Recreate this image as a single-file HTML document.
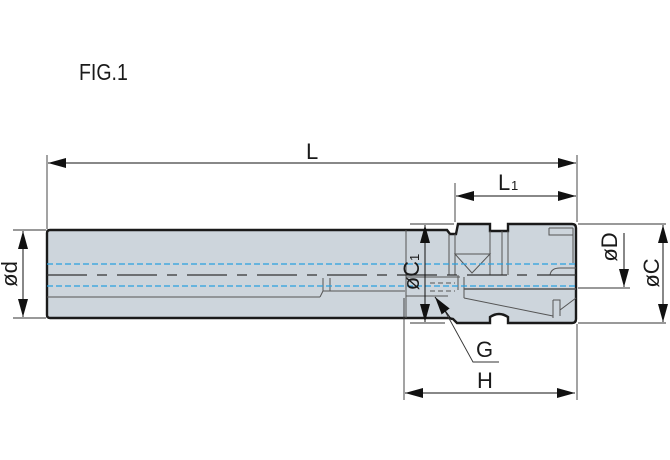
<!DOCTYPE html>
<html><head><meta charset="utf-8"><style>
html,body{margin:0;padding:0;background:#fff;width:670px;height:460px;overflow:hidden}
svg{display:block}
text{font-family:"Liberation Sans",sans-serif;fill:#1a1a1a}
</style></head><body>
<svg width="670" height="460" viewBox="0 0 670 460" xmlns="http://www.w3.org/2000/svg">
<defs>
<marker id="a" viewBox="0 0 18 10" refX="18" refY="5" markerWidth="18" markerHeight="10" orient="auto-start-reverse" markerUnits="userSpaceOnUse"><path d="M0,0 L18,5 L0,10 Z" fill="#111"/></marker>
</defs>
<text x="79" y="80" font-size="23" transform="translate(79 0) scale(0.85 1) translate(-79 0)">FIG.1</text>

<!-- body -->
<path d="M50,230 L447,230 L450,234 L456,234 L458,224 L490,224 L490,231 L508,231 L508,224 L572,224 Q576,224 576,228 L576,319 Q576,323 572,323 L508,323 L508,317 Q499,311 490,317 L490,323 L457,323 L453,319 L448,318 L50,318 Q47,318 47,315 L47,233 Q47,230 50,230 Z" fill="#cdd5dc" stroke="#1a1a1a" stroke-width="2.4"/>
<!-- internal lines -->
<g stroke="#555" stroke-width="1" fill="none">
<line x1="47" y1="297" x2="320" y2="297"/>
<path d="M320,297 L323,291 L323,278 M323,291 L405,291 M330,278 L330,291"/>
<line x1="406" y1="230" x2="406" y2="318"/>
<line x1="449" y1="234" x2="449" y2="275"/>
<line x1="455" y1="234" x2="455" y2="275"/>
<line x1="490" y1="231" x2="490" y2="275"/>
<line x1="502" y1="231" x2="502" y2="275"/>
<line x1="508" y1="231" x2="508" y2="275"/>
<path d="M455,254 L490,254 L472,273 Z"/>
<line x1="406" y1="277" x2="460" y2="277"/>
<path d="M458,275 L458,290 M464,277 L464,298"/>
<line x1="464" y1="289" x2="576" y2="289" stroke-width="1.4"/>
<path d="M464,298 L538,313 L553,316 M553,300 L553,318 M553,300 L560,300 L560,310 L576,298 M560,310 L560,316"/>
<path d="M549,228 L573,228 M549,228 L549,235 L573,235 M573,228 L573,263"/>
<path d="M550,275 Q551,268 560,268 L576,268"/>
<path d="M430,283 L455,283 M430,291 L455,291" stroke-dasharray="5 3"/>
<line x1="406" y1="296" x2="448" y2="296"/>
</g>
<!-- centre & blue lines -->
<line x1="47" y1="275" x2="576" y2="275" stroke="#333" stroke-width="1.2" stroke-dasharray="40 10 10 10"/>
<line x1="47" y1="264" x2="576" y2="264" stroke="#2aa0e0" stroke-width="1.2" stroke-dasharray="6 3"/>
<line x1="47" y1="286" x2="576" y2="286" stroke="#2aa0e0" stroke-width="1.2" stroke-dasharray="6 3"/>

<!-- dimension lines -->
<g stroke="#333" stroke-width="0.9" fill="none">
<line x1="47" y1="155" x2="47" y2="229"/>
<line x1="577" y1="155" x2="577" y2="222"/>
<line x1="455" y1="183" x2="455" y2="222"/>
<line x1="13" y1="230" x2="46" y2="230"/>
<line x1="13" y1="318" x2="46" y2="318"/>
<line x1="578" y1="224" x2="666" y2="224"/>
<line x1="578" y1="323" x2="666" y2="323"/>
<line x1="578" y1="288" x2="630" y2="288"/>
<line x1="410" y1="224" x2="454" y2="224"/>
<line x1="410" y1="323" x2="445" y2="323"/>
<line x1="404" y1="298" x2="404" y2="400"/>
<line x1="577" y1="324" x2="577" y2="400"/>
<path d="M440,302 L473,362 L499,362"/>
</g>
<g stroke="#111" stroke-width="1" fill="none">
<line x1="48" y1="163" x2="576" y2="163" marker-start="url(#a)" marker-end="url(#a)"/>
<line x1="456" y1="196" x2="576" y2="196" marker-start="url(#a)" marker-end="url(#a)"/>
<line x1="405" y1="393" x2="575" y2="393" marker-start="url(#a)" marker-end="url(#a)"/>
<line x1="23" y1="231" x2="23" y2="317" marker-start="url(#a)" marker-end="url(#a)"/>
<line x1="663" y1="225" x2="663" y2="322" marker-start="url(#a)" marker-end="url(#a)"/>
<line x1="425" y1="225" x2="425" y2="322" marker-start="url(#a)" marker-end="url(#a)"/>
<line x1="624" y1="233" x2="624" y2="287" marker-end="url(#a)"/>
<line x1="452" y1="320" x2="435" y2="297" marker-end="url(#a)"/>
</g>

<!-- labels -->
<text x="306" y="159" font-size="22">L</text>
<text x="498" y="190" font-size="22">L</text><text x="511" y="190" font-size="13">1</text>
<text x="476" y="357" font-size="22">G</text>
<text x="477" y="388" font-size="22">H</text>
<text transform="translate(17 274) rotate(-90)" font-size="22" text-anchor="middle">ød</text>
<text transform="translate(659 273) rotate(-90)" font-size="22" text-anchor="middle">øC</text>
<text transform="translate(617 247) rotate(-90)" font-size="22" text-anchor="middle">øD</text>
<text transform="translate(419 272) rotate(-90)" font-size="22" text-anchor="middle">øC<tspan font-size="13">1</tspan></text>
</svg>
</body></html>
